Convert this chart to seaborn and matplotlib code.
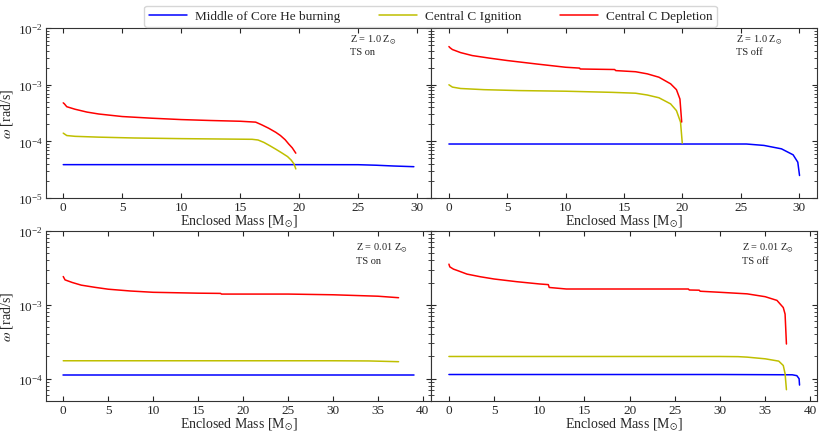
import pandas as pd
import matplotlib
matplotlib.use('Agg')
import matplotlib.pyplot as plt
import seaborn as sns

stages = ['Middle of Core He burning', 'Central C Ignition', 'Central C Depletion']
colors = {stages[0]: '#0000ff', stages[1]: '#bfbf00', stages[2]: '#ff0000'}

# Z = 1.0 Zsun, TS on
m_he_a = [0.0, 5.0, 10.0, 15.0, 20.0, 25.0, 26.5, 28.0, 29.7]
w_he_a = [3.89e-5, 3.89e-5, 3.89e-5, 3.89e-5, 3.89e-5, 3.88e-5, 3.80e-5, 3.68e-5, 3.58e-5]
m_ci_a = [0.0, 0.3, 1.0, 3.0, 6.0, 10.0, 14.0, 16.0, 16.5, 17.0, 17.5, 18.0, 18.5, 19.0, 19.3, 19.55, 19.7]
w_ci_a = [1.40e-4, 1.27e-4, 1.23e-4, 1.19e-4, 1.15e-4, 1.12e-4, 1.10e-4, 1.09e-4, 1.06e-4, 9.6e-5, 8.4e-5, 7.3e-5,
          6.3e-5, 5.4e-5, 4.7e-5, 4.0e-5, 3.27e-5]
m_cd_a = [0.0, 0.1, 0.3, 1.0, 2.0, 3.0, 5.0, 7.5, 10.0, 12.5, 15.0, 16.3, 16.8, 17.4, 18.0, 18.4, 18.8, 19.1, 19.4, 19.7]
w_cd_a = [4.8e-4, 4.6e-4, 4.1e-4, 3.7e-4, 3.3e-4, 3.05e-4, 2.75e-4, 2.57e-4, 2.43e-4, 2.34e-4, 2.27e-4, 2.19e-4,
          1.97e-4, 1.71e-4, 1.45e-4, 1.27e-4, 1.07e-4, 9.0e-5, 7.7e-5, 6.2e-5]

# Z = 1.0 Zsun, TS off
m_he_b = [0.0, 5.0, 10.0, 15.0, 20.0, 25.5, 27.0, 28.5, 29.5, 29.9, 30.05]
w_he_b = [9.0e-5, 9.0e-5, 9.0e-5, 9.0e-5, 9.0e-5, 9.0e-5, 8.5e-5, 7.4e-5, 5.8e-5, 4.3e-5, 2.5e-5]
m_ci_b = [0.0, 0.3, 1.0, 3.0, 6.0, 10.0, 14.0, 16.0, 17.0, 18.0, 19.0, 19.5, 19.85, 20.0]
w_ci_b = [1.0e-3, 9.1e-4, 8.6e-4, 8.2e-4, 7.9e-4, 7.7e-4, 7.35e-4, 7.1e-4, 6.6e-4, 5.9e-4, 4.6e-4, 3.5e-4, 2.2e-4, 9.3e-5]
m_cd_b = [0.0, 0.1, 0.3, 1.0, 2.0, 3.5, 5.0, 7.5, 10.0, 11.2, 11.25, 14.2, 14.3, 16.0, 17.0, 18.0, 19.0, 19.5,
          19.8, 19.95]
w_cd_b = [4.73e-3, 4.5e-3, 4.19e-3, 3.7e-3, 3.28e-3, 2.95e-3, 2.68e-3, 2.33e-3, 2.04e-3, 1.97e-3, 1.9e-3, 1.86e-3,
          1.78e-3, 1.70e-3, 1.56e-3, 1.36e-3, 1.04e-3, 8.2e-4, 5.6e-4, 2.2e-4]

# Z = 0.01 Zsun, TS on
m_he_c = [0.0, 10.0, 20.0, 30.0, 39.0]
w_he_c = [1.13e-4, 1.13e-4, 1.13e-4, 1.13e-4, 1.13e-4]
m_ci_c = [0.0, 10.0, 20.0, 30.0, 34.0, 37.3]
w_ci_c = [1.75e-4, 1.75e-4, 1.75e-4, 1.75e-4, 1.74e-4, 1.70e-4]
m_cd_c = [0.0, 0.2, 1.0, 2.0, 3.5, 5.0, 7.5, 10.0, 15.0, 17.5, 17.6, 25.0, 30.0, 35.0, 37.3]
w_cd_c = [2.42e-3, 2.18e-3, 2.01e-3, 1.85e-3, 1.73e-3, 1.63e-3, 1.54e-3, 1.48e-3, 1.44e-3, 1.43e-3, 1.40e-3,
          1.40e-3, 1.37e-3, 1.31e-3, 1.25e-3]

# Z = 0.01 Zsun, TS off
m_he_d = [0.0, 10.0, 20.0, 30.0, 38.0, 38.5, 38.75, 38.8]
w_he_d = [1.14e-4, 1.14e-4, 1.14e-4, 1.14e-4, 1.13e-4, 1.10e-4, 1.0e-4, 8.2e-5]
m_ci_d = [0.0, 10.0, 20.0, 30.0, 32.0, 33.0, 35.0, 36.5, 37.0, 37.2, 37.35]
w_ci_d = [2.0e-4, 2.0e-4, 2.0e-4, 2.0e-4, 1.99e-4, 1.96e-4, 1.86e-4, 1.73e-4, 1.51e-4, 1.17e-4, 7.1e-5]
m_cd_d = [0.0, 0.1, 0.5, 1.0, 2.0, 3.5, 5.0, 7.5, 10.0, 11.0, 11.1, 13.0, 20.0, 26.5, 26.6, 27.7, 27.8, 30.0,
          33.0, 35.0, 36.3, 37.0, 37.2, 37.35]
w_cd_d = [3.56e-3, 3.27e-3, 3.05e-3, 2.9e-3, 2.61e-3, 2.4e-3, 2.24e-3, 2.06e-3, 1.92e-3, 1.88e-3, 1.72e-3, 1.64e-3,
          1.64e-3, 1.64e-3, 1.59e-3, 1.58e-3, 1.53e-3, 1.48e-3, 1.41e-3, 1.29e-3, 1.15e-3, 9.2e-4, 7.5e-4, 2.95e-4]

panels = [
    ('Z = 1.0 Z$_{\\odot}$\nTS on', [(m_he_a, w_he_a), (m_ci_a, w_ci_a), (m_cd_a, w_cd_a)]),
    ('Z = 1.0 Z$_{\\odot}$\nTS off', [(m_he_b, w_he_b), (m_ci_b, w_ci_b), (m_cd_b, w_cd_b)]),
    ('Z = 0.01 Z$_{\\odot}$\nTS on', [(m_he_c, w_he_c), (m_ci_c, w_ci_c), (m_cd_c, w_cd_c)]),
    ('Z = 0.01 Z$_{\\odot}$\nTS off', [(m_he_d, w_he_d), (m_ci_d, w_ci_d), (m_cd_d, w_cd_d)]),
]

sns.set_style('ticks')
plt.rcParams['font.family'] = ['Liberation Serif', 'DejaVu Serif']
plt.rcParams['mathtext.fontset'] = 'stix'
plt.rcParams['xtick.direction'] = 'in'
plt.rcParams['ytick.direction'] = 'in'

fig, axes = plt.subplots(2, 2, figsize=(8.22, 4.35), dpi=100, sharey='row')
fig.subplots_adjust(left=0.0556, right=0.994, top=0.933, bottom=0.076, wspace=0, hspace=0.194)

for i, (ax, (label, series)) in enumerate(zip(axes.flat, panels)):
    rows = []
    for stage, (m, w) in zip(stages, series):
        for mm, ww in zip(m, w):
            rows.append({'mass': mm, 'omega': ww, 'stage': stage})
    df = pd.DataFrame(rows)
    sns.lineplot(data=df, x='mass', y='omega', hue='stage', palette=colors, hue_order=stages,
                 estimator=None, sort=False, lw=1.1, legend=False, ax=ax)
    ax.set_yscale('log')
    if i < 2:
        ax.set_ylim(1e-5, 1e-2)
        ax.text(0.79, 0.97, label, transform=ax.transAxes, fontsize=7.5, va='top', ha='left',
                linespacing=1.1)
    else:
        ax.set_ylim(5e-5, 1e-2)
        ax.text(0.805, 0.94, label, transform=ax.transAxes, fontsize=7.5, va='top', ha='left',
                linespacing=1.3)
    ax.set_xlabel('Enclosed Mass [M$_{\\odot}$]', fontsize=10, labelpad=0)
    if i % 2 == 0:
        ax.set_ylabel('$\\omega$ [rad/s]', fontsize=10, labelpad=2)
    else:
        ax.set_ylabel('')
        ax.tick_params(labelleft=False)
    ax.tick_params(which='both', top=True, right=True, labelsize=9.5, pad=2)
    ax.tick_params(axis='x', which='minor', top=False, bottom=False)
    for s in ax.spines.values():
        s.set_color('#333333')

handles = [plt.Line2D([], [], color=colors[s], lw=1.1) for s in stages]
fig.legend(handles, stages, loc='upper center', bbox_to_anchor=(0.524, 1.0), ncol=3, fontsize=9.5,
           handlelength=2.9, handletextpad=0.6, columnspacing=2.9, borderpad=0.35, frameon=True, fancybox=True)

fig.savefig('out.png', dpi=100)
